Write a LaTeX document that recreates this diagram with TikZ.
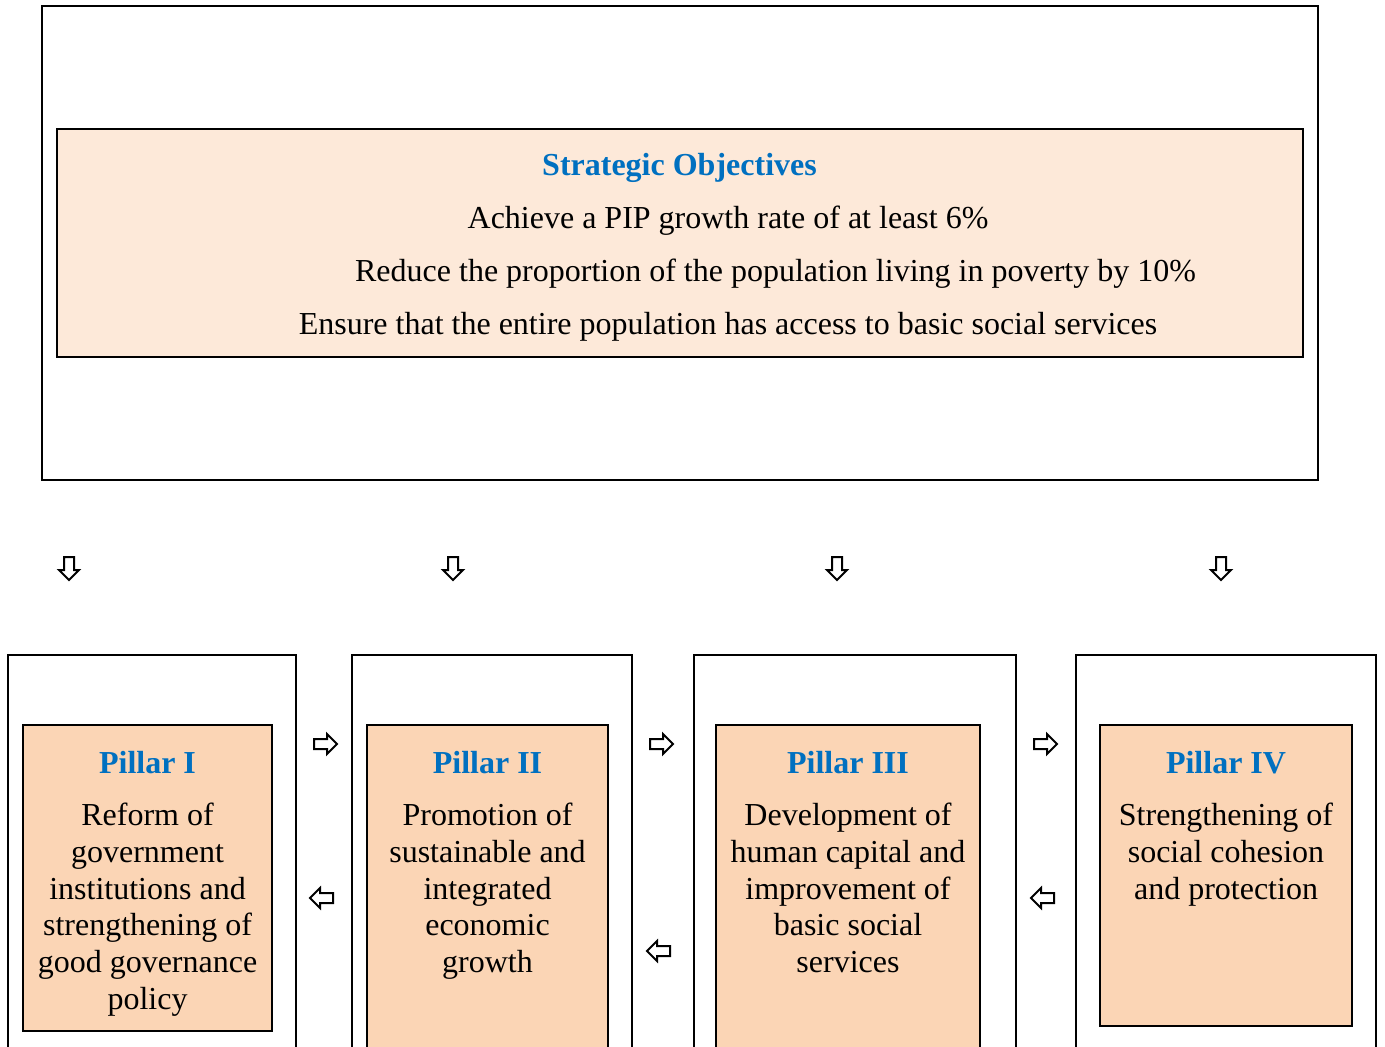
\documentclass[tikz,border=0pt]{standalone}
\usepackage{fontspec}
\setmainfont{Liberation Serif}
\usetikzlibrary{shapes.arrows,fit}

\definecolor{headblue}{HTML}{0070C0}
\definecolor{lightpeach}{HTML}{FDE9D9}
\definecolor{peach}{HTML}{FBD5B5}

\tikzset{
  frame/.style={draw, line width=1pt, inner sep=0pt},
  txt/.style={inner sep=0pt, font=\fontsize{16pt}{18.4pt}\selectfont},
  head/.style={txt, font=\fontsize{16pt}{18.4pt}\selectfont\bfseries, text=headblue},
  pillartxt/.style={txt, align=center, anchor=north},
  blockarrow/.style={single arrow, draw, line width=1pt, fill=white,
    inner xsep=0pt, inner ysep=2pt, minimum height=11.5pt,
    single arrow head extend=2.5pt, single arrow tip angle=90},
  downarrow/.style={blockarrow, rotate=-90},
  rightarrow/.style={blockarrow},
  leftarrow/.style={blockarrow, rotate=180}
}

\begin{document}
\begin{tikzpicture}[x=0.5pt, y=-0.5pt]
  \clip (0,0) rectangle (1385,1047);

  % strategic objectives
  \node[frame, fit={(42,6) (1318,480)}] (objframe) {};
  \node[frame, fill=lightpeach, fit={(57,129) (1303,357)}] (objbox) {};
  \node[head, anchor=base] (objtitle) at (679.5,176) {Strategic Objectives};
  \node[txt, anchor=base] (obj1) at (728,229) {Achieve a PIP growth rate of at least 6\%};
  \node[txt, anchor=base] (obj2) at (775.5,282) {Reduce the proportion of the population living in poverty by 10\%};
  \node[txt, anchor=base] (obj3) at (728,335) {Ensure that the entire population has access to basic social services};

  \foreach \x in {69,453,837,1221}
    \node[downarrow] (down\x) at (\x,566) {};

  % pillars
  \node[frame, fit={(8,655) (296,1070)}] (frame1) {};
  \node[frame, fill=peach, fit={(23,725) (272,1031)}] (pillar1) {};
  \node[pillartxt] (text1) at (147.5,751)
    {\textcolor{headblue}{\bfseries Pillar I}\\[7.5pt]
     Reform of\\government\\institutions and\\strengthening of\\good governance\\policy};

  \node[frame, fit={(352,655) (632,1070)}] (frame2) {};
  \node[frame, fill=peach, fit={(367,725) (608,1070)}] (pillar2) {};
  \node[pillartxt] (text2) at (487.5,751)
    {\textcolor{headblue}{\bfseries Pillar II}\\[7.5pt]
     Promotion of\\sustainable and\\integrated\\economic\\growth};

  \node[frame, fit={(694,655) (1016,1070)}] (frame3) {};
  \node[frame, fill=peach, fit={(716,725) (980,1070)}] (pillar3) {};
  \node[pillartxt] (text3) at (848,751)
    {\textcolor{headblue}{\bfseries Pillar III}\\[7.5pt]
     Development of\\human capital and\\improvement of\\basic social\\services};

  \node[frame, fit={(1076,655) (1376,1070)}] (frame4) {};
  \node[frame, fill=peach, fit={(1100,725) (1352,1026)}] (pillar4) {};
  \node[pillartxt] (text4) at (1226,751)
    {\textcolor{headblue}{\bfseries Pillar IV}\\[7.5pt]
     Strengthening of\\social cohesion\\and protection};

  % arrows between pillars
  \foreach \x in {323,659,1043}
    \node[rightarrow] (right\x) at (\x,744) {};
  \node[leftarrow] (left1) at (324,898) {};
  \node[leftarrow] (left2) at (661,951) {};
  \node[leftarrow] (left3) at (1045,898) {};
\end{tikzpicture}
\end{document}
